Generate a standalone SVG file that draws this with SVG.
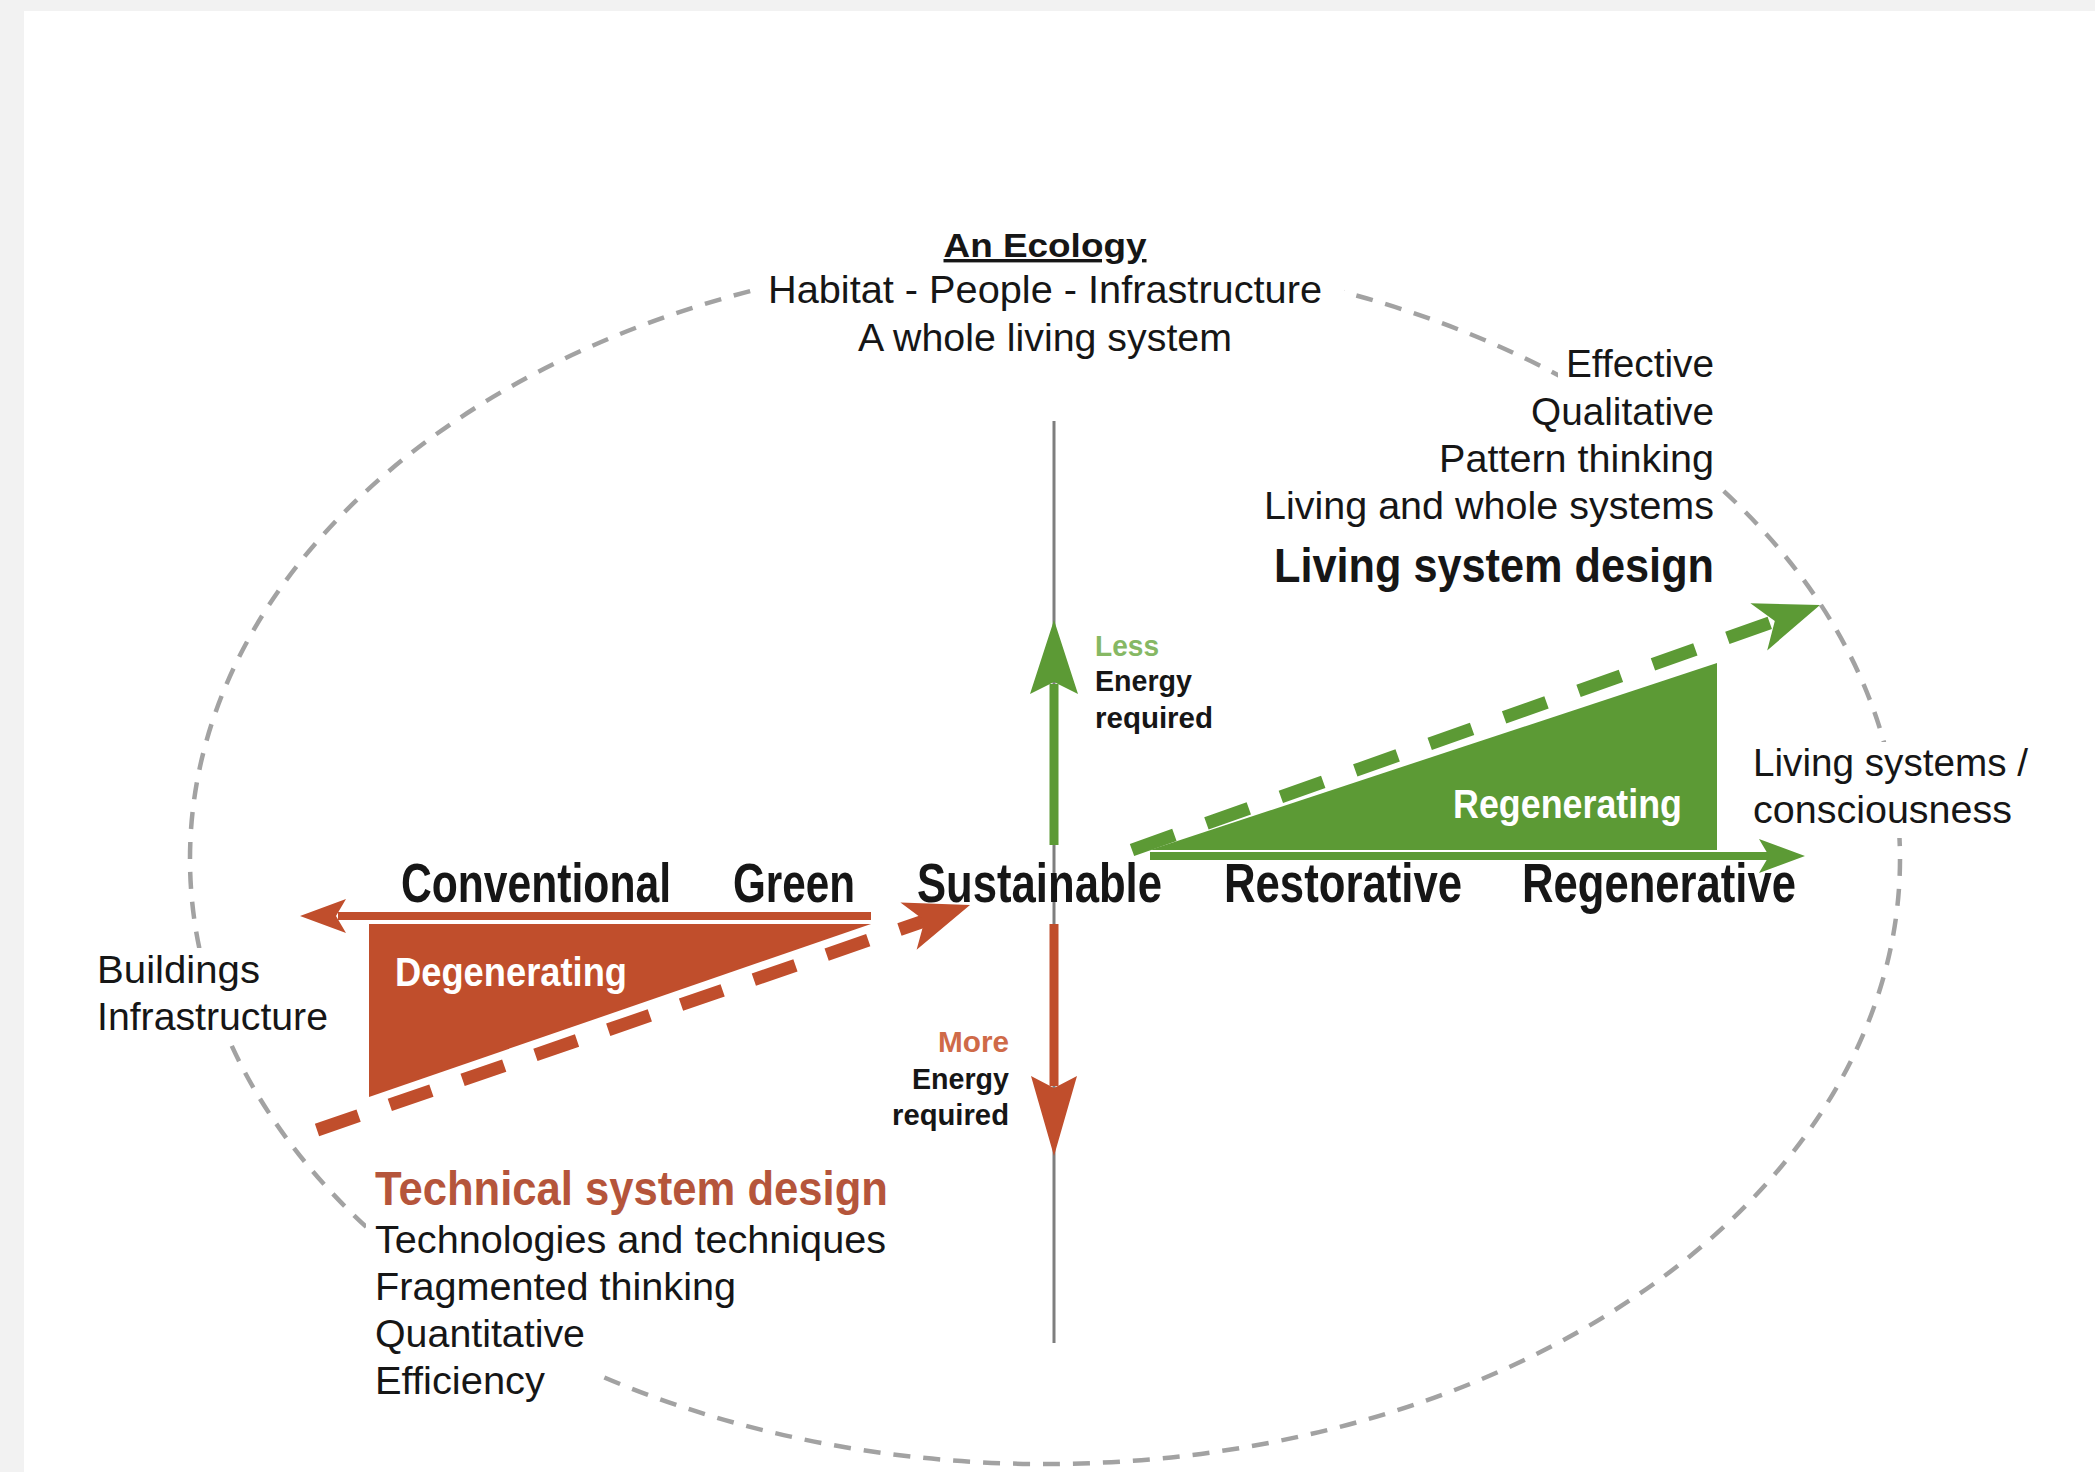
<svg xmlns="http://www.w3.org/2000/svg" width="2095" height="1472" viewBox="0 0 2095 1472">
<style>
text{font-family:"Liberation Sans",Arial,Helvetica,sans-serif;fill:#161616}
.r{font-size:38px}
.h{font-size:48px;font-weight:bold}
.k{font-size:55px;font-weight:bold}
.s{font-size:30px;font-weight:bold}
.w{font-size:40px;font-weight:bold;fill:#ffffff}
.end{text-anchor:end}
.mid{text-anchor:middle}
.bg{fill:#ffffff}
.ell{fill:none;stroke:#a2a2a2;stroke-width:4.5;stroke-dasharray:17 13}
.red{fill:#c04e2c}
.grn{fill:#5c9a35}
.redS{stroke:#c04e2c;fill:none}
.grnS{stroke:#5c9a35;fill:none}
</style>
<rect x="0" y="0" width="2095" height="1472" fill="#f2f2f2"/>
<rect x="24" y="11" width="2071" height="1461" fill="#ffffff"/>

<g id="ecology-boundary">
<ellipse class="ell" cx="1045" cy="859" rx="855" ry="605"/>
</g>

<g id="degenerating-wedge">
<polygon class="red" points="369,924 871,924 369,1097"/>
<text class="w" x="395" y="986" textLength="232" lengthAdjust="spacingAndGlyphs">Degenerating</text>
</g>

<g id="regenerating-wedge">
<polygon class="grn" points="1150,850 1717,663 1717,850"/>
<text class="w" x="1453" y="818" textLength="229" lengthAdjust="spacingAndGlyphs">Regenerating</text>
</g>

<g id="connectors">
<line x1="1054" y1="421" x2="1054" y2="1343" stroke="#7e7e7e" stroke-width="3"/>
<line class="grnS" x1="1054" y1="845" x2="1054" y2="684" stroke-width="9"/>
<polygon class="grn" points="1054,620 1078,694 1054,682 1030,694"/>
<line class="redS" x1="1054" y1="924" x2="1054" y2="1086" stroke-width="9"/>
<polygon class="red" points="1054,1156 1031,1076 1054,1088 1077,1076"/>
<line class="redS" x1="338" y1="916" x2="871" y2="916" stroke-width="8"/>
<polygon class="red" points="300,916 346,899 336,916 346,933"/>
<line class="grnS" x1="1150" y1="856" x2="1771" y2="856" stroke-width="8"/>
<polygon class="grn" points="1805,856 1759,839 1769,856 1759,873"/>
<line class="redS" x1="317" y1="1130" x2="927" y2="920" stroke-width="13" stroke-dasharray="44 33"/>
<polygon class="red" points="970,905 900.4,902.6 924.6,920.6 916.6,949.8"/>
<line class="grnS" x1="1132" y1="850" x2="1775" y2="621" stroke-width="13" stroke-dasharray="45 34"/>
<polygon class="grn" points="1820,605 1750.4,603.2 1774.8,621.1 1767.2,650.4"/>
</g>

<g id="ecology-label">
<rect class="bg" x="752" y="218" width="592" height="146"/>
<text class="mid" x="1045" y="257" font-size="34" font-weight="bold" text-decoration="underline" textLength="203" lengthAdjust="spacingAndGlyphs">An Ecology</text>
<text class="r mid" x="1045" y="303" textLength="554" lengthAdjust="spacingAndGlyphs">Habitat - People - Infrastructure</text>
<text class="r mid" x="1045" y="351" textLength="374" lengthAdjust="spacingAndGlyphs">A whole living system</text>
</g>

<g id="living-system-design">
<rect class="bg" x="1558" y="347" width="164" height="46"/>
<rect class="bg" x="1524" y="392" width="198" height="49"/>
<rect class="bg" x="1432" y="440" width="290" height="48"/>
<rect class="bg" x="1257" y="487" width="465" height="43"/>
<text class="r end" x="1714" y="377" textLength="148" lengthAdjust="spacingAndGlyphs">Effective</text>
<text class="r end" x="1714" y="425" textLength="183" lengthAdjust="spacingAndGlyphs">Qualitative</text>
<text class="r end" x="1714" y="472" textLength="275" lengthAdjust="spacingAndGlyphs">Pattern thinking</text>
<text class="r end" x="1714" y="519" textLength="450" lengthAdjust="spacingAndGlyphs">Living and whole systems</text>
<text class="h end" x="1714" y="582" textLength="440" lengthAdjust="spacingAndGlyphs">Living system design</text>
</g>

<g id="technical-system-design">
<rect class="bg" x="366" y="1160" width="529" height="153"/>
<rect class="bg" x="366" y="1312" width="236" height="94"/>
<text class="h" x="375" y="1205" style="fill:#b5553b" textLength="513" lengthAdjust="spacingAndGlyphs">Technical system design</text>
<text class="r" x="375" y="1253" textLength="511" lengthAdjust="spacingAndGlyphs">Technologies and techniques</text>
<text class="r" x="375" y="1300" textLength="361" lengthAdjust="spacingAndGlyphs">Fragmented thinking</text>
<text class="r" x="375" y="1347" textLength="210" lengthAdjust="spacingAndGlyphs">Quantitative</text>
<text class="r" x="375" y="1394" textLength="170" lengthAdjust="spacingAndGlyphs">Efficiency</text>
</g>

<g id="buildings-label">
<rect class="bg" x="90" y="948" width="246" height="97"/>
<text class="r" x="97" y="983" textLength="163" lengthAdjust="spacingAndGlyphs">Buildings</text>
<text class="r" x="97" y="1030" textLength="231" lengthAdjust="spacingAndGlyphs">Infrastructure</text>
</g>

<g id="living-systems-label">
<rect class="bg" x="1745" y="742" width="292" height="96"/>
<text class="r" x="1753" y="776" textLength="275" lengthAdjust="spacingAndGlyphs">Living systems /</text>
<text class="r" x="1753" y="823" textLength="259" lengthAdjust="spacingAndGlyphs">consciousness</text>
</g>

<g id="scale-labels">
<text class="k" x="401" y="902" textLength="270" lengthAdjust="spacingAndGlyphs">Conventional</text>
<text class="k" x="733" y="902" textLength="122" lengthAdjust="spacingAndGlyphs">Green</text>
<text class="k" x="917" y="902" textLength="245" lengthAdjust="spacingAndGlyphs">Sustainable</text>
<text class="k" x="1224" y="902" textLength="238" lengthAdjust="spacingAndGlyphs">Restorative</text>
<text class="k" x="1522" y="902" textLength="274" lengthAdjust="spacingAndGlyphs">Regenerative</text>
</g>

<g id="less-energy">
<text class="s" x="1095" y="656" style="fill:#86b864" textLength="64" lengthAdjust="spacingAndGlyphs">Less</text>
<text class="s" x="1095" y="691" textLength="97" lengthAdjust="spacingAndGlyphs">Energy</text>
<text class="s" x="1095" y="728" textLength="118" lengthAdjust="spacingAndGlyphs">required</text>
</g>

<g id="more-energy">
<text class="s end" x="1009" y="1052" style="fill:#cf6a48" textLength="71" lengthAdjust="spacingAndGlyphs">More</text>
<text class="s end" x="1009" y="1089" textLength="97" lengthAdjust="spacingAndGlyphs">Energy</text>
<text class="s end" x="1009" y="1125" textLength="117" lengthAdjust="spacingAndGlyphs">required</text>
</g>
</svg>
